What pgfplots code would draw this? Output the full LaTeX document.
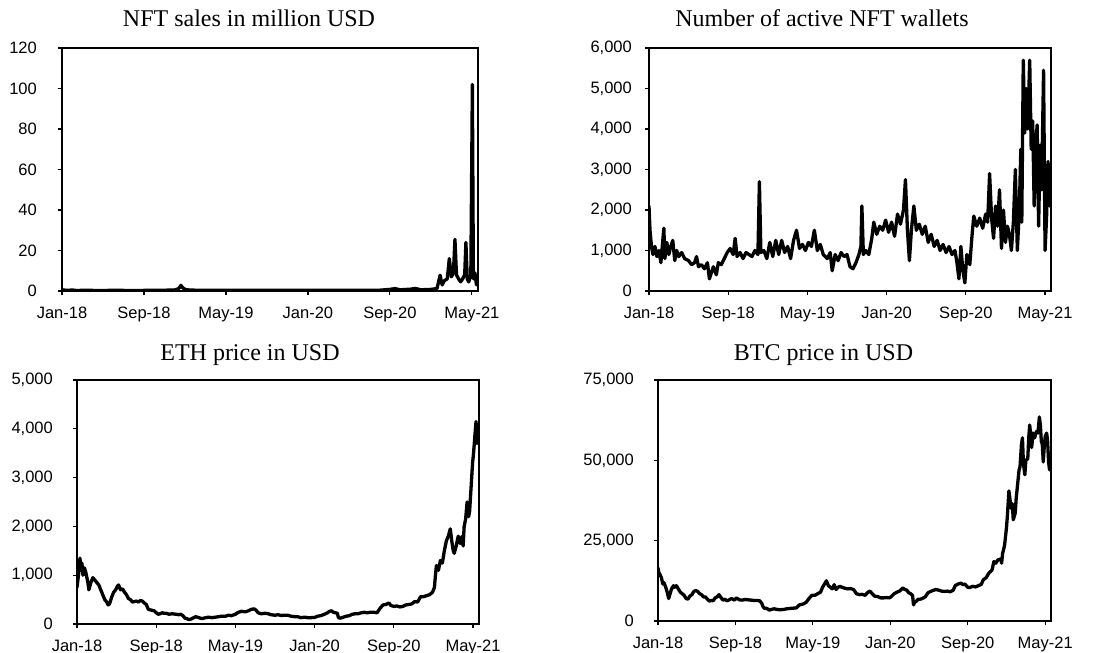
\documentclass[border=0pt]{standalone}
\usepackage{pgfplots}
\pgfplotsset{compat=1.18}
\usepackage{fontspec}
\setmainfont{Liberation Serif}
\newfontfamily\ticksans{Liberation Sans}

\pgfplotsset{
  panel/.style={
    scale only axis, anchor=south west,
    xmin=0, xmax=40.6, ymin=0,
    xtick={0,8,16,24,32,40},
    xticklabels={Jan-18,Sep-18,May-19,Jan-20,Sep-20,May-21},
    tick align=outside, xtick pos=bottom, ytick pos=left,
    major tick length=4pt,
    axis line style={line width=1.3pt, black},
    tick style={black, line width=1.2pt},
    ticklabel style={font=\ticksans\fontsize{16.5}{18}\selectfont},
    xticklabel style={anchor=base, inner sep=0pt, yshift=-23pt},
    yticklabel style={anchor=east, inner sep=0pt},
    scaled y ticks=false,
    /pgf/number format/.cd, 1000 sep={,}, assume math mode=true, fixed,
    /pgfplots/.cd,
    title style={font=\fontsize{24}{28}\selectfont, at={(0.5,1)}, anchor=base},
  },
  dataline/.style={black, line width=3.3pt, line join=round, line cap=round},
}

\begin{document}
\begin{tikzpicture}
\useasboundingbox (0pt,0pt) rectangle (1104pt,-653pt);

% ---------- NFT sales ----------
\begin{axis}[panel, at={(62pt,-291pt)}, width=416pt, height=243pt,
  ymax=120, ytick={0,20,...,120},
  yticklabel style={xshift=-21pt},
  title={NFT sales in million USD},
  title style={xshift=-21pt, yshift=16pt}]
\addplot[dataline] coordinates {
(0,0.6) (0.5,0.3) (1,0.5) (1.5,0.2) (2,0.4) (3,0.3) (4,0.2) (5,0.4) (6,0.3) (7,0.2) (8,0.3) (9,0.3) (10,0.4) (11,0.5)
(11.4,1.2) (11.6,2.8) (11.8,1.5) (12.1,0.6) (13,0.4) (14,0.3) (15,0.3) (16,0.3) (17,0.4) (18,0.3) (19,0.3) (20,0.3)
(21,0.4) (22,0.3) (23,0.3) (24,0.3) (25,0.3) (26,0.4) (27,0.3) (28,0.3) (29,0.3) (30,0.3) (31,0.4)
(32,0.8) (32.5,1.2) (33,0.6) (34,0.9) (34.5,1.3) (35,0.6) (36,0.8) (36.6,1.2)
(36.9,7.8) (37.1,3) (37.3,5) (37.6,6) (37.8,16) (38,7) (38.2,9) (38.35,25.5) (38.5,8) (38.7,6) (38.9,4.5)
(39.1,6) (39.3,8) (39.42,24) (39.55,6) (39.7,4.5) (39.9,8) (40.05,102) (40.15,6) (40.3,9) (40.45,3)
};
\end{axis}

% ---------- Active wallets ----------
\begin{axis}[panel, at={(649pt,-291pt)}, width=402pt, height=243pt,
  ymax=6000, ytick={0,1000,...,6000},
  yticklabel style={xshift=-13pt},
  title={Number of active NFT wallets},
  title style={xshift=-28pt, yshift=16pt}]
\addplot[dataline] coordinates {
(0,2100) (0.1,1500) (0.25,1100) (0.4,900) (0.6,1100) (0.8,850) (1.0,1000) (1.2,700) (1.5,1550) (1.6,800)
(1.8,1200) (2.0,900) (2.2,1100) (2.4,1250) (2.6,750) (2.8,1000) (3.0,850) (3.3,950) (3.6,800) (4.0,750)
(4.3,650) (4.6,700) (4.8,850) (5.0,600) (5.3,650) (5.6,550) (5.9,700) (6.1,300) (6.3,450) (6.5,600)
(6.8,400) (7.0,700) (7.3,650) (7.6,800) (7.9,950) (8.2,1050) (8.5,900) (8.7,1300) (8.9,850) (9.2,950)
(9.5,800) (9.8,950) (10.1,900) (10.4,850) (10.7,1000) (11.0,900) (11.15,2700) (11.3,950) (11.6,1000) (11.9,800)
(12.2,1200) (12.5,850) (12.8,1250) (13.1,900) (13.4,1250) (13.7,950) (14.0,1100) (14.3,800) (14.6,1250) (14.9,1500)
(15.2,1050) (15.5,1150) (15.8,1000) (16.1,1200) (16.4,1100) (16.7,1500) (17.0,1000) (17.3,1150) (17.6,900) (18.0,800)
(18.3,950) (18.5,500) (18.8,900) (19.1,750) (19.4,950) (19.7,850) (20.0,900) (20.3,600) (20.6,550) (20.9,700)
(21.2,900) (21.4,1100) (21.5,2100) (21.65,900) (21.9,1000) (22.2,900) (22.5,1300) (22.7,1700) (23.0,1400) (23.3,1600)
(23.6,1500) (23.9,1750) (24.2,1450) (24.5,1700) (24.8,1350) (25.1,1900) (25.4,1650) (25.7,2000) (25.9,2750) (26.1,1500)
(26.3,750) (26.5,1500) (26.75,2100) (27.0,1500) (27.3,1650) (27.6,1400) (27.9,1600) (28.2,1200) (28.5,1400) (28.8,1100)
(29.1,1250) (29.4,1000) (29.7,1150) (30.0,950) (30.3,1100) (30.6,900) (30.9,1000) (31.1,700) (31.3,300) (31.5,1100)
(31.7,500) (31.9,200) (32.1,900) (32.4,650) (32.6,1300) (32.8,1850) (33.1,1600) (33.4,1800) (33.7,1550) (34.0,1900)
(34.2,1700) (34.4,2900) (34.6,1800) (34.8,1300) (35.0,2100) (35.2,1600) (35.4,2500) (35.6,1050) (35.8,2000) (36.0,1200)
(36.2,1600) (36.4,1400) (36.6,1000) (36.8,1700) (37.0,3000) (37.2,1000) (37.4,2000) (37.55,3500) (37.65,1700) (37.8,5700)
(37.95,3900) (38.1,5000) (38.25,4000) (38.45,5700) (38.6,3500) (38.75,4200) (38.9,2100) (39.05,3500) (39.2,4100) (39.35,1600)
(39.5,3600) (39.65,2500) (39.85,5450) (40.0,1000) (40.15,1800) (40.3,3200) (40.45,2100)
};
\end{axis}

% ---------- ETH ----------
\begin{axis}[panel, at={(77pt,-624pt)}, width=402pt, height=244pt,
  ymax=5000, ytick={0,1000,...,5000},
  yticklabel style={xshift=-20pt},
  title={ETH price in USD},
  title style={xshift=-28pt, yshift=14pt}]
\addplot[dataline] coordinates {
(0,750) (0.15,1000) (0.3,1350) (0.4,1100) (0.5,1250) (0.6,1000) (0.75,1150) (0.9,1050) (1.1,850) (1.2,700)
(1.4,850) (1.6,950) (1.8,900) (2.0,850) (2.2,800) (2.4,700) (2.6,600) (2.8,500) (3.0,450) (3.15,390)
(3.3,420) (3.5,550) (3.7,650) (3.9,700) (4.1,780) (4.2,800) (4.4,700) (4.6,720) (4.8,650) (5.0,600)
(5.2,520) (5.4,500) (5.6,450) (5.8,460) (6.0,470) (6.2,450) (6.4,480) (6.6,470) (6.8,430) (7.0,400)
(7.2,300) (7.4,290) (7.6,280) (7.8,270) (8.0,230) (8.2,200) (8.4,210) (8.6,230) (8.8,220) (9.0,220)
(9.3,200) (9.6,210) (10.0,200) (10.3,190) (10.5,200) (10.7,170) (10.9,120) (11.1,110) (11.3,90) (11.5,100)
(11.7,120) (12.0,150) (12.3,130) (12.6,110) (13.0,130) (13.3,140) (13.6,130) (14.0,140) (14.3,150) (14.6,160)
(15.0,160) (15.3,180) (15.6,170) (16.0,200) (16.3,240) (16.6,260) (17.0,250) (17.3,270) (17.6,300) (17.9,310)
(18.1,280) (18.3,230) (18.6,210) (19.0,220) (19.3,210) (19.6,190) (20.0,180) (20.3,190) (20.6,175) (21.0,180)
(21.3,180) (21.6,160) (22.0,150) (22.3,150) (22.6,130) (23.0,140) (23.3,130) (23.6,130) (24.0,135) (24.3,160)
(24.6,170) (25.0,200) (25.3,230) (25.5,260) (25.7,270) (25.9,240) (26.1,230) (26.3,220) (26.4,130) (26.6,120)
(26.9,140) (27.2,160) (27.5,170) (27.8,200) (28.1,210) (28.4,210) (28.7,230) (29.0,240) (29.3,230) (29.6,240)
(30.0,240) (30.3,230) (30.6,320) (30.9,390) (31.2,400) (31.5,430) (31.7,380) (32.0,360) (32.3,370) (32.6,350)
(32.9,360) (33.2,390) (33.5,400) (33.8,410) (34.1,460) (34.4,450) (34.7,560) (35.0,560) (35.3,580) (35.6,600)
(35.9,650) (36.1,750) (36.2,1000) (36.3,1200) (36.5,1100) (36.7,1300) (36.9,1250) (37.1,1500) (37.3,1700) (37.5,1800)
(37.7,1950) (37.85,1700) (38.0,1500) (38.1,1450) (38.3,1600) (38.5,1800) (38.7,1650) (38.9,1800) (39.0,1600) (39.1,2000)
(39.25,2150) (39.4,2500) (39.55,2200) (39.65,2300) (39.8,2800) (39.95,3300) (40.05,3500) (40.2,3900) (40.3,4150) (40.4,3700)
(40.45,3800)
};
\end{axis}

% ---------- BTC ----------
\begin{axis}[panel, at={(658pt,-621pt)}, width=393pt, height=241pt,
  ymax=75000, ytick={0,25000,50000,75000},
  yticklabel style={xshift=-20pt},
  title={BTC price in USD},
  title style={xshift=-31pt, yshift=14pt}]
\addplot[dataline] coordinates {
(0,16500) (0.1,15000) (0.2,14500) (0.35,13500) (0.5,11500) (0.6,12000) (0.8,10500) (0.95,9000) (1.1,7000) (1.25,8500)
(1.4,10000) (1.6,11000) (1.7,10500) (1.9,11000) (2.1,10000) (2.3,9000) (2.5,8500) (2.7,8000) (2.9,7000) (3.1,6800)
(3.3,7800) (3.5,8200) (3.7,9200) (3.9,9500) (4.1,9200) (4.3,8500) (4.5,8200) (4.7,7500) (4.9,7500) (5.1,6800)
(5.3,6200) (5.5,6400) (5.7,6300) (5.9,7200) (6.1,7500) (6.3,8200) (6.5,7300) (6.7,6500) (6.9,6800) (7.1,6300)
(7.3,6500) (7.6,7000) (7.9,6500) (8.1,7200) (8.4,6600) (8.7,6500) (9.0,6700) (9.3,6600) (9.6,6500) (9.9,6400)
(10.2,6400) (10.5,6300) (10.7,5600) (10.85,4500) (11.0,3900) (11.2,4000) (11.5,3400) (11.7,3600) (12.0,3800) (12.3,3600)
(12.6,3500) (13.0,3600) (13.3,3800) (13.6,3900) (14.0,4000) (14.3,4100) (14.6,5000) (15.0,5300) (15.3,5800) (15.6,7000)
(15.9,8000) (16.2,8000) (16.5,8500) (16.8,9000) (17.0,10500) (17.2,11500) (17.4,12500) (17.6,11000) (17.8,10500) (18.0,10000)
(18.2,11300) (18.4,9800) (18.6,10500) (18.8,10800) (19.0,10500) (19.3,10200) (19.6,10000) (19.9,10100) (20.2,9800) (20.5,8500)
(20.8,8200) (21.1,8300) (21.4,8000) (21.7,9000) (21.9,9300) (22.1,8600) (22.4,7700) (22.7,7600) (23.0,7200) (23.3,7200)
(23.6,7300) (23.9,7200) (24.1,7600) (24.4,8500) (24.7,9000) (25.0,9400) (25.3,10300) (25.5,9800) (25.7,9600) (25.9,8800)
(26.1,8500) (26.3,7900) (26.4,5000) (26.5,5800) (26.7,6200) (26.9,6800) (27.1,6800) (27.3,7000) (27.6,7500) (27.9,8800)
(28.1,9100) (28.4,9500) (28.7,9800) (29.0,9600) (29.3,9300) (29.6,9200) (29.9,9300) (30.2,9100) (30.5,9600) (30.7,11000)
(31.0,11500) (31.3,11800) (31.5,11300) (31.7,11500) (32.0,10500) (32.2,10400) (32.5,10800) (32.8,10600) (33.1,11000) (33.4,11400)
(33.6,12800) (33.9,13500) (34.2,15000) (34.5,15800) (34.7,18500) (34.9,18000) (35.1,19000) (35.4,19300) (35.5,18000) (35.6,21000)
(35.8,23500) (36.0,29000) (36.1,33000) (36.25,40500) (36.4,37000) (36.5,35000) (36.6,36500) (36.7,31500) (36.8,32500) (36.9,33500)
(37.0,38000) (37.2,44000) (37.3,47000) (37.4,48000) (37.55,55000) (37.65,57000) (37.75,49000) (37.9,45500) (38.0,50000) (38.2,50500)
(38.3,57000) (38.4,61000) (38.5,58000) (38.6,54000) (38.75,58500) (38.9,57000) (39.1,59000) (39.25,58500) (39.4,63500) (39.5,61000)
(39.6,56000) (39.7,55000) (39.8,49500) (39.9,54000) (40.0,57500) (40.15,58500) (40.25,56000) (40.35,49500) (40.45,47000)
};
\end{axis}
\end{tikzpicture}
\end{document}
